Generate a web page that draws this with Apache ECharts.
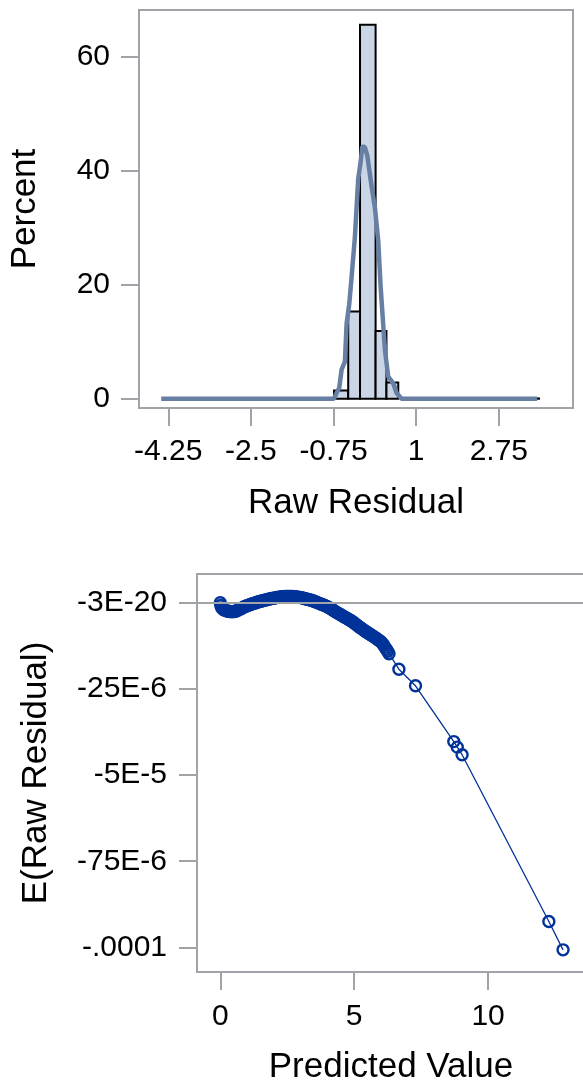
<!DOCTYPE html>
<html>
<head>
<meta charset="utf-8">
<script src="https://cdn.jsdelivr.net/npm/echarts@6/dist/echarts.min.js"></script>
<style>
  html, body { margin: 0; padding: 0; background: #fff; overflow: hidden; width: 583px; height: 1087px; }
  #chart { width: 600px; height: 1087px; }
</style>
</head>
<body>
<div id="chart"></div>
<script>
// ---------- DATA ----------
// Histogram of raw residuals (percent per bin)
const binStart   = [-0.74, -0.44, -0.19, 0.14, 0.37, 3.33];
const binEnd     = [-0.44, -0.19,  0.14, 0.37, 0.62, 3.60];
const binPercent = [ 1.45, 15.3,  65.6, 11.9,  2.86, 0.05];

// Density curve over the histogram
const densityX = [-4.40, -0.742, -0.686, -0.63, -0.58, -0.51, -0.474, -0.418, -0.368, -0.298, -0.228, -0.177, -0.143, -0.09, -0.037, 0.056, 0.126, 0.196, 0.246, 0.337, 0.407, 0.513, 0.585, 0.69, 3.56];
const densityY = [0, 0, 1.0, 1.9, 5.1, 6.5, 13.2, 16.6, 21.4, 28.4, 38.6, 41.5, 44.2, 44.2, 42.7, 37.2, 33.5, 27.7, 19.7, 8.6, 3.9, 2.7, 1.0, 0, 0];

const histXTicks = [-4.25, -2.5, -0.75, 1, 2.75];
const histYTicks = [0, 20, 40, 60];

// Expected raw residual vs predicted value (y in units of 1e-6)
const predX = [0.00, 0.02, 0.05, 0.10, 0.15, 0.20, 0.25, 0.30, 0.35, 0.40, 0.45, 0.50, 0.55, 0.60, 0.65, 0.70, 0.75, 0.80, 0.85, 0.90, 0.95,
  1.00, 1.05, 1.10, 1.15, 1.20, 1.25, 1.30, 1.35, 1.40, 1.45, 1.50, 1.55, 1.60, 1.65, 1.70, 1.75, 1.80, 1.85, 1.90, 1.95,
  2.00, 2.05, 2.10, 2.15, 2.20, 2.25, 2.30, 2.35, 2.40, 2.45, 2.50, 2.55, 2.60, 2.65, 2.70, 2.75, 2.80, 2.85, 2.90, 2.95,
  3.00, 3.05, 3.10, 3.15, 3.20, 3.25, 3.30, 3.35, 3.40, 3.45, 3.50, 3.55, 3.60, 3.65, 3.70, 3.75, 3.80, 3.85, 3.90, 3.95,
  4.00, 4.05, 4.10, 4.15, 4.20, 4.25, 4.30, 4.35, 4.40, 4.45, 4.50, 4.55, 4.60, 4.65, 4.70, 4.75, 4.80, 4.85, 4.90, 4.95,
  5.00, 5.05, 5.10, 5.15, 5.20, 5.25, 5.30, 5.35, 5.40, 5.45, 5.50, 5.55, 5.60, 5.65, 5.70, 5.75, 5.80, 5.85, 5.90, 5.95,
  6.00, 6.05, 6.10, 6.15, 6.20, 6.25, 6.30, 6.67, 7.29, 8.72, 8.85, 9.03, 12.27, 12.80];
const expResidMicro = [0.0, -0.8, -1.5, -1.9, -2.1, -2.3, -2.4, -2.5, -2.55, -2.6, -2.6, -2.6, -2.5, -2.4, -2.2, -2.0, -1.8, -1.6, -1.4, -1.2, -1.05,
  -0.9, -0.75, -0.6, -0.45, -0.3, -0.2, -0.1, 0.05, 0.2, 0.3, 0.4, 0.5, 0.6, 0.7, 0.8, 0.9, 1.0, 1.1, 1.2, 1.25,
  1.3, 1.4, 1.5, 1.55, 1.6, 1.65, 1.7, 1.75, 1.8, 1.8, 1.8, 1.8, 1.8, 1.8, 1.8, 1.75, 1.7, 1.65, 1.6, 1.55,
  1.5, 1.4, 1.3, 1.2, 1.1, 1.0, 0.9, 0.8, 0.7, 0.55, 0.4, 0.25, 0.1, -0.05, -0.2, -0.35, -0.5, -0.65, -0.8, -1.0,
  -1.2, -1.4, -1.6, -1.85, -2.1, -2.35, -2.6, -2.85, -3.1, -3.3, -3.5, -3.75, -4.0, -4.2, -4.4, -4.65, -4.9, -5.1, -5.3, -5.6,
  -5.9, -6.2, -6.5, -6.8, -7.1, -7.35, -7.6, -7.9, -8.2, -8.45, -8.7, -8.95, -9.2, -9.45, -9.7, -9.95, -10.2, -10.5, -10.8, -11.05,
  -11.3, -11.8, -12.3, -12.9, -13.5, -14.1, -14.8, -19.3, -24.1, -40.3, -41.9, -44.1, -92.5, -100.7];

const predXTicks = [0, 5, 10];
const residYTicks = [-3e-20, -25e-6, -5e-5, -75e-6, -1e-4];
const residYTickLabels = ['-3E-20', '-25E-6', '-5E-5', '-75E-6', '-.0001'];

// ---------- CHART ----------
const FONT = 'Liberation Sans, Arial, sans-serif';
const GRAY = '#a0a4a8';
const tickStyle = { show: true, inside: false, length: 18, lineStyle: { color: GRAY, width: 2 } };
const noLine = { show: false, onZero: false };

const histData = binStart.map((s, i) => [s, binEnd[i], binPercent[i]]);
const densityData = densityX.map((x, i) => [x, densityY[i]]);
const residData = predX.map((x, i) => [x, expResidMicro[i] * 1e-6]);

function nearestLabel(v) {
  let best = 0, bd = Infinity;
  residYTicks.forEach((t, i) => { const d = Math.abs(t - v); if (d < bd) { bd = d; best = i; } });
  return residYTickLabels[best];
}

const chart = echarts.init(document.getElementById('chart'), null, { renderer: 'canvas' });
chart.setOption({
  animation: false,
  backgroundColor: '#fff',
  textStyle: { fontFamily: FONT },
  grid: [
    { left: 139, top: 10, width: 434, height: 398, show: true, borderColor: GRAY, borderWidth: 2, backgroundColor: 'transparent' },
    { left: 197, top: 574, width: 388, height: 398, show: true, borderColor: GRAY, borderWidth: 2, backgroundColor: 'transparent' }
  ],
  xAxis: [
    {
      gridIndex: 0, type: 'value', min: -4.87, max: 4.32,
      splitLine: { show: false }, axisLine: noLine,
      axisTick: Object.assign({ customValues: histXTicks }, tickStyle),
      axisLabel: { customValues: histXTicks, margin: 29, fontSize: 30, color: '#000', fontFamily: FONT },
      name: 'Raw Residual', nameLocation: 'middle', nameGap: 78,
      nameTextStyle: { fontSize: 35, color: '#000', fontFamily: FONT }
    },
    {
      gridIndex: 1, type: 'value', min: -0.87, max: 13.62,
      splitLine: { show: false }, axisLine: noLine,
      axisTick: Object.assign({ customValues: predXTicks }, tickStyle),
      axisLabel: { customValues: predXTicks, margin: 30, fontSize: 30, color: '#000', fontFamily: FONT },
      name: 'Predicted Value', nameLocation: 'middle', nameGap: 78,
      nameTextStyle: { fontSize: 35, color: '#000', fontFamily: FONT }
    }
  ],
  yAxis: [
    {
      gridIndex: 0, type: 'value', min: -1.63, max: 68.2,
      splitLine: { show: false }, axisLine: noLine,
      axisTick: Object.assign({ customValues: histYTicks }, tickStyle),
      axisLabel: { customValues: histYTicks, margin: 29, fontSize: 30, color: '#000', fontFamily: FONT },
      name: 'Percent', nameLocation: 'middle', nameGap: 96, nameRotate: 90,
      nameTextStyle: { fontSize: 35, color: '#000', fontFamily: FONT }
    },
    {
      gridIndex: 1, type: 'value', min: -1.0713e-4, max: 8.32e-6,
      splitLine: { show: false }, axisLine: noLine,
      axisTick: Object.assign({ customValues: residYTicks }, tickStyle),
      axisLabel: { customValues: residYTicks, margin: 30, fontSize: 30, color: '#000', fontFamily: FONT, formatter: v => nearestLabel(v) },
      name: 'E(Raw Residual)', nameLocation: 'middle', nameGap: 143, nameRotate: 90,
      nameTextStyle: { fontSize: 35, color: '#000', fontFamily: FONT }
    }
  ],
  series: [
    {
      type: 'custom', xAxisIndex: 0, yAxisIndex: 0, z: 2,
      data: histData,
      encode: { x: [0, 1], y: 2 },
      renderItem: function (params, api) {
        const p0 = api.coord([api.value(0), api.value(2)]);
        const p1 = api.coord([api.value(1), 0]);
        return {
          type: 'rect',
          shape: { x: p0[0], y: p0[1], width: p1[0] - p0[0], height: p1[1] - p0[1] },
          style: { fill: '#cad5e5', stroke: '#000', lineWidth: 2 }
        };
      }
    },
    {
      type: 'line', xAxisIndex: 0, yAxisIndex: 0, z: 3,
      data: densityData, showSymbol: false, smooth: false,
      lineStyle: { color: '#667fa2', width: 4.5 }
    },
    {
      type: 'line', xAxisIndex: 1, yAxisIndex: 1, z: 3,
      data: residData, showSymbol: true, showAllSymbol: true,
      symbol: 'circle', symbolSize: 11,
      itemStyle: { color: 'rgba(0,0,0,0)', borderColor: '#003399', borderWidth: 2.4 },
      lineStyle: { color: '#003399', width: 1.3 },
      markLine: {
        silent: true, symbol: 'none', animation: false,
        label: { show: false },
        lineStyle: { color: GRAY, width: 2, type: 'solid' },
        data: [{ yAxis: 0 }]
      }
    }
  ]
});
</script>
</body>
</html>
